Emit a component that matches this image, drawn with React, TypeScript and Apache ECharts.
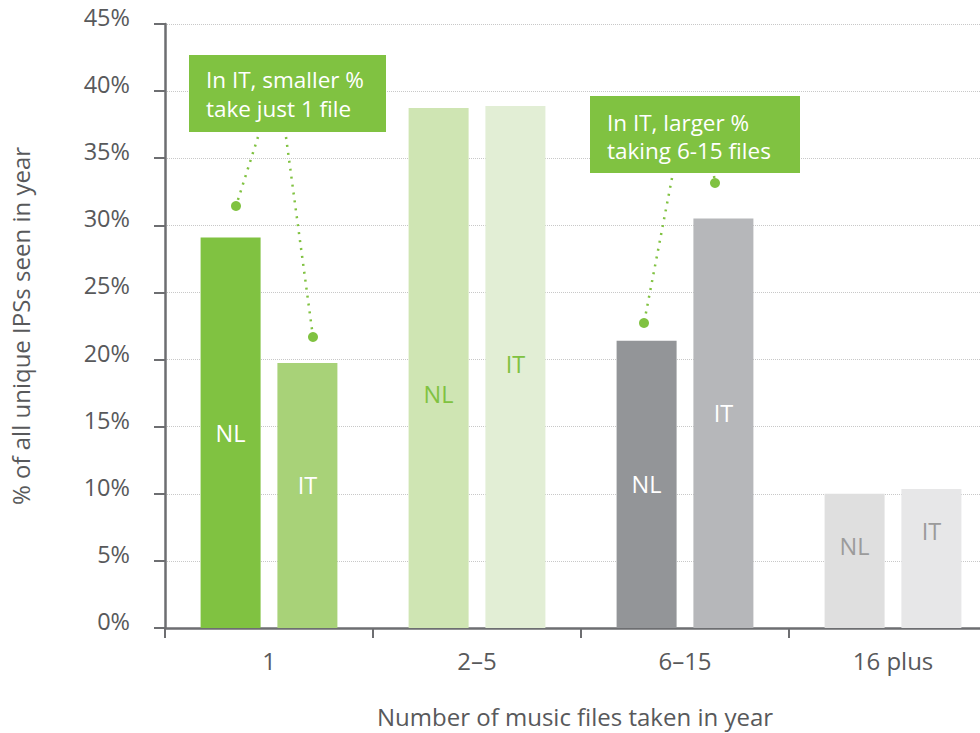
import React, { useEffect, useRef } from "react";
import * as echarts from "echarts";

const categories = ["1", "2–5", "6–15", "16 plus"];
const nlValues = [29.1, 38.75, 21.4, 10.0];
const itValues = [19.75, 38.9, 30.5, 10.35];
const yTicks = [0, 5, 10, 15, 20, 25, 30, 35, 40, 45];

// styling (not data)
const nlColors = ["#80c241", "#cfe5b3", "#939598", "#dfdfdf"];
const itColors = ["#a8d278", "#e2eed5", "#b6b7ba", "#e7e7e8"];
const nlLabelColors = ["#ffffff", "#80c241", "#ffffff", "#9b9b9b"];
const itLabelColors = ["#ffffff", "#80c241", "#ffffff", "#9b9b9b"];
const nlLabelOffsets = [0, 26, 0, -15];
const itLabelOffsets = [-10, -3, -10, -28];

const FONT = "'Open Sans', sans-serif";
const TEXT = "#58595b";
const AXIS = "#6d6e71";
const GREEN = "#80c241";

export default function App() {
  const ref = useRef<HTMLDivElement>(null);
  useEffect(() => {
    if (!ref.current) return;
    const chart = echarts.init(ref.current, undefined, { renderer: "svg" });
    const mk = (vals: number[], colors: string[], lc: string[], offs: number[], name: string) =>
      vals.map((v, i) => ({
        value: v,
        itemStyle: { color: colors[i] },
        label: {
          show: true,
          position: "inside",
          formatter: name,
          color: lc[i],
          fontSize: 23.5,
          fontFamily: FONT,
          offset: [0, offs[i]],
        },
      }));
    const dotted = (x1: number, y1: number, x2: number, y2: number) => ({
      type: "line",
      shape: { x1, y1, x2, y2 },
      style: { stroke: GREEN, lineWidth: 2.5, lineDash: [2, 6] },
      z: 10,
    });
    const dot = (cx: number, cy: number) => ({
      type: "circle",
      shape: { cx, cy, r: 5 },
      style: { fill: GREEN },
      z: 10,
    });
    const txt = (x: number, y: number, t: string) => ({
      type: "text",
      x,
      y,
      style: {
        text: t,
        fill: "#ffffff",
        font: `22.5px ${FONT}`,
        verticalAlign: "middle",
        textAlign: "left",
      },
      z: 11,
    });
    chart.setOption({
      animation: false,
      grid: { left: 165, top: 24, width: 832, height: 606, containLabel: false },
      xAxis: {
        type: "category",
        data: categories,
        name: "Number of music files taken in year",
        nameLocation: "middle",
        nameGap: 76,
        nameTextStyle: { fontSize: 24, fontFamily: FONT, color: TEXT, padding: [0, 12, 0, 0] },
        axisLine: { show: true, lineStyle: { color: AXIS, width: 2.5 } },
        axisTick: { show: true, length: 10, lineStyle: { color: AXIS, width: 2 } },
        axisLabel: { fontSize: 24, fontFamily: FONT, color: TEXT, margin: 20 },
        splitLine: { show: false },
      },
      yAxis: {
        type: "value",
        min: yTicks[0],
        max: yTicks[yTicks.length - 1],
        interval: 5,
        name: "% of all unique IPSs seen in year",
        nameLocation: "middle",
        nameRotate: 90,
        nameGap: 133,
        nameTextStyle: { fontSize: 24, fontFamily: FONT, color: TEXT },
        axisLine: { show: true, lineStyle: { color: AXIS, width: 2.5 } },
        axisTick: { show: true, length: 11, lineStyle: { color: AXIS, width: 2 } },
        axisLabel: {
          fontSize: 23.5,
          fontFamily: FONT,
          color: TEXT,
          margin: 35,
          verticalAlign: "bottom",
          lineHeight: 14,
          formatter: (v: number) => `${v}%`,
        },
        splitLine: { show: true, lineStyle: { color: "#c8c8c8", type: "dotted", width: 1 } },
      },
      series: [
        {
          name: "NL",
          type: "bar",
          barWidth: 60,
          barGap: "28%",
          data: mk(nlValues, nlColors, nlLabelColors, nlLabelOffsets, "NL"),
        },
        {
          name: "IT",
          type: "bar",
          barWidth: 60,
          data: mk(itValues, itColors, itLabelColors, itLabelOffsets, "IT"),
        },
      ],
      graphic: [
        { type: "rect", shape: { x: 189, y: 55, width: 197, height: 77 }, style: { fill: GREEN }, z: 10 },
        txt(206, 79, "In IT, smaller %"),
        txt(206, 108, "take just 1 file"),
        dotted(258, 137, 236, 206),
        dot(236, 206),
        dotted(286, 137, 313, 337),
        dot(313, 337),
        { type: "rect", shape: { x: 590, y: 96, width: 210, height: 77 }, style: { fill: GREEN }, z: 10 },
        txt(607, 122, "In IT, larger %"),
        txt(607, 150, "taking 6-15 files"),
        dotted(672, 178, 644, 323),
        dot(644, 323),
        dotted(714, 176, 715, 183),
        dot(715, 183),
      ],
    });
    return () => chart.dispose();
  }, []);
  return (
    <div
      style={{
        position: "fixed",
        left: 0,
        top: 0,
        width: 980,
        height: 733,
        overflow: "hidden",
        background: "#fff",
      }}
    >
      <div ref={ref} style={{ width: 1010, height: 733 }} />
    </div>
  );
}
